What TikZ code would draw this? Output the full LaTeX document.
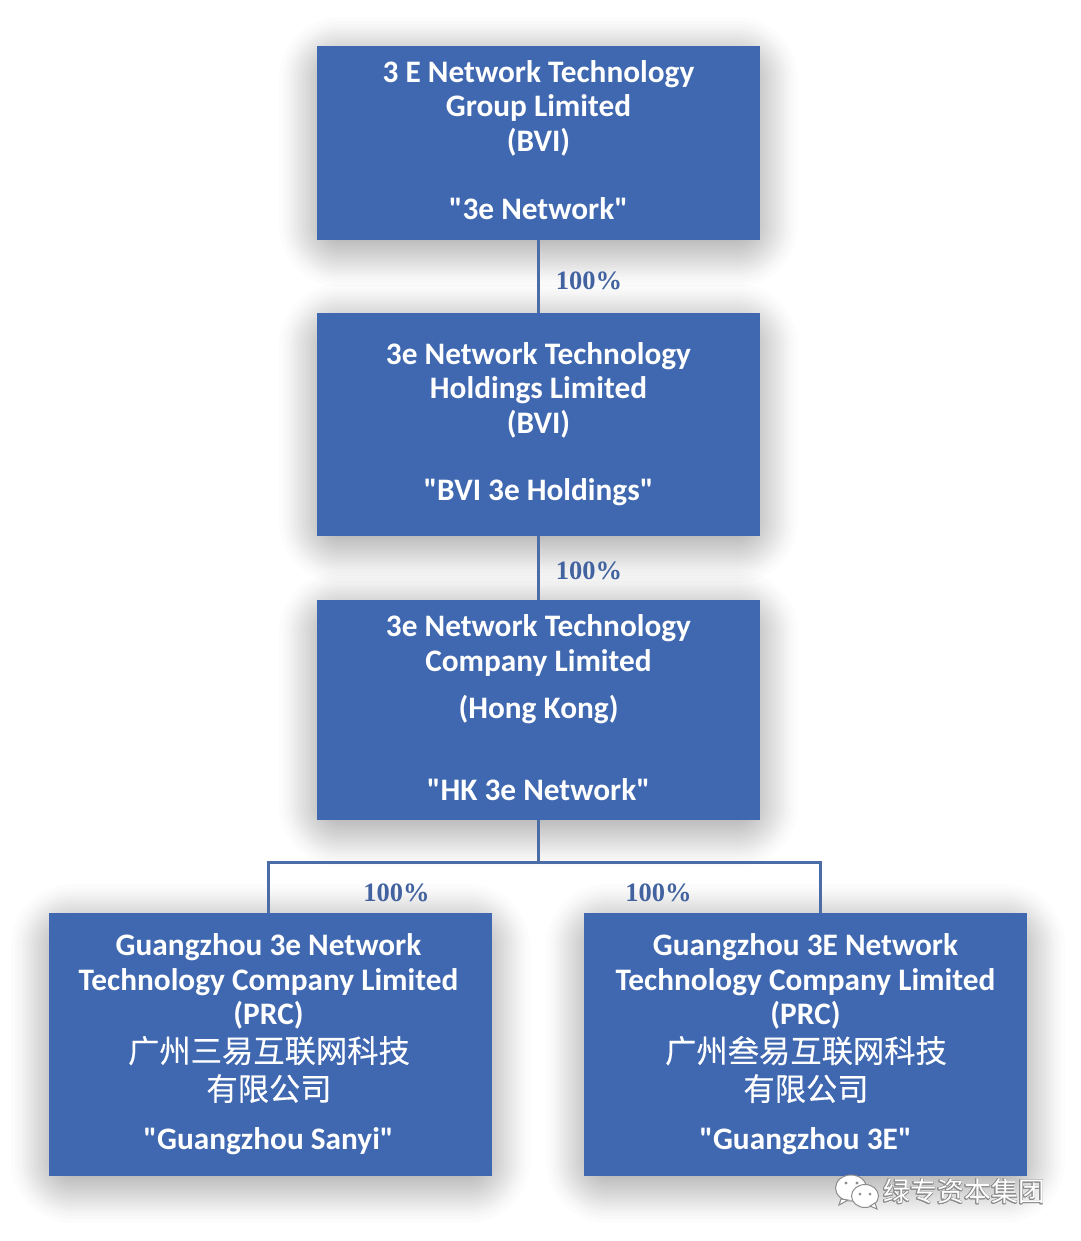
\documentclass[tikz,border=0pt]{standalone}
\usepackage{fontspec}
\usepackage{contour}
\setmainfont{Carlito}[Ligatures=TeXOff]
\newfontfamily\cjkfont{Noto Sans CJK SC}[FakeBold=0.25]
\newfontfamily\markfont{Noto Sans CJK SC}
\newfontfamily\pctfont{Liberation Serif}
\definecolor{boxblue}{HTML}{4068B0}
\definecolor{linkblue}{HTML}{4A6DA8}
\definecolor{pctblue}{HTML}{42639F}
\definecolor{markgray}{HTML}{8C8C8C}
\contourlength{0.7pt}
\tikzset{
  x=1pt,y=-1pt,
  boxnode/.style={fill=boxblue,inner sep=0pt,minimum width=443pt},
  boxtext/.style={text=white,align=center,inner sep=0pt,font=\fontsize{31.3}{34.6}\selectfont\bfseries},
  cjktext/.style={text=white,align=center,inner sep=0pt,font=\fontsize{31.3}{38}\selectfont\cjkfont},
  pct/.style={text=pctblue,inner sep=0pt,font=\fontsize{26.5}{30}\selectfont\pctfont\bfseries},
  link/.style={draw=linkblue,line width=3pt,line join=miter},
}
\newcommand{\softshadow}[4]{%
  \foreach \r in {38,34,31,28,26,24,22,20,18,16,14,12,10,8,6,4,2,0,-2,-4,-6,-8,-10,-12,-14,-16,-18}{%
    \fill[black,opacity=0.0115,rounded corners={max(\r+24,1)*1pt}]
      (#1-\r,#2+9-\r) rectangle (#3+\r,#4+9+\r);
  }%
}
\begin{document}
\begin{tikzpicture}
\useasboundingbox (0,0) rectangle (1080,1241);
\fill[white] (0,0) rectangle (1080,1241);
% shadows
\softshadow{317}{46}{760}{240}
\softshadow{317}{313}{760}{536}
\softshadow{317}{600}{760}{820}
\softshadow{49}{913}{492}{1176}
\softshadow{584}{913}{1027}{1176}
% boxes
\node[boxnode,minimum height=194pt] (b1) at (538.5,143) {};
\node[boxnode,minimum height=223pt] (b2) at (538.5,424.5) {};
\node[boxnode,minimum height=220pt] (b3) at (538.5,710) {};
\node[boxnode,minimum height=263pt] (b4) at (270.5,1044.5) {};
\node[boxnode,minimum height=263pt] (b5) at (805.5,1044.5) {};
% connectors
\coordinate (jc) at (538.5,862);
\coordinate (jl) at (268,862);
\coordinate (jr) at (820,862);
\draw[link] (b1.south) -- (b2.north);
\draw[link] (b2.south) -- (b3.north);
\draw[link] (b3.south) -- (jc);
\draw[link] (jc) -- (jl) -- (jl |- b4.north);
\draw[link] (jc) -- (jr) -- (jr |- b5.north);
% percentages
\node[pct] (p1) at (589,281) {100\%};
\node[pct] (p2) at (589,571) {100\%};
\node[pct] (p3) at (396.5,893) {100\%};
\node[pct] (p4) at (658.5,893) {100\%};
% box 1
\node[boxtext] (t1a) at (538.5,108) {3 E Network Technology\\Group Limited\\(BVI)};
\node[boxtext] (t1b) at (538.5,208.5) {"3e Network"};
% box 2
\node[boxtext] (t2a) at (538.5,390) {3e Network Technology\\Holdings Limited\\(BVI)};
\node[boxtext] (t2b) at (538.5,492.5) {"BVI 3e Holdings"};
% box 3
\node[boxtext] (t3a) at (538.5,645.5) {3e Network Technology\\Company Limited};
\node[boxtext] (t3b) at (538.5,710) {(Hong Kong)};
\node[boxtext] (t3c) at (538.5,790) {"HK 3e Network"};
% box 4
\node[boxtext] (t4a) at (268.5,981.5) {Guangzhou 3e Network\\Technology Company Limited\\(PRC)};
\node[cjktext] (t4b) at (269,1069.5) {广州三易互联网科技\\有限公司};
\node[boxtext] (t4c) at (268.5,1141) {"Guangzhou Sanyi"};
% box 5
\node[boxtext] (t5a) at (805.5,981.5) {Guangzhou 3E Network\\Technology Company Limited\\(PRC)};
\node[cjktext] (t5b) at (806,1069.5) {广州叁易互联网科技\\有限公司};
\node[boxtext] (t5c) at (805.5,1141) {"Guangzhou 3E"};
% watermark
\begin{scope}[draw=markgray,fill=white,line width=1pt]
  \filldraw (851,1188) ellipse [x radius=15.5pt,y radius=13pt];
  \filldraw (841,1199) -- (839,1205) -- (848,1200) -- cycle;
  \filldraw (865,1196) ellipse [x radius=13.5pt,y radius=11.5pt];
  \filldraw (870,1206) -- (877,1209) -- (875,1203) -- cycle;
  \fill[markgray] (846,1183) circle (1.7pt) (857,1183) circle (1.7pt)
                  (860,1194) circle (1.5pt) (870,1194) circle (1.5pt);
\end{scope}
\node[inner sep=0pt,font=\fontsize{27}{30}\selectfont\markfont] (wm) at (964,1192) {\contour{markgray}{\textcolor{white}{绿专资本集团}}};
\end{tikzpicture}
\end{document}
